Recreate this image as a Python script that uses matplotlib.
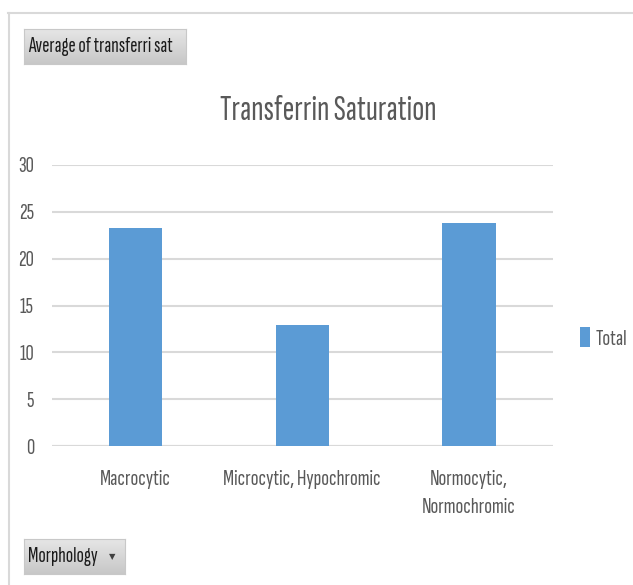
import numpy as np
import matplotlib.pyplot as plt
from matplotlib.lines import Line2D

plt.rcParams['font.family'] = ['Sofia Sans Extra Condensed', 'DejaVu Sans']

# данные
categories = ['Macrocytic', 'Microcytic, Hypochromic', 'Normocytic,\nNormochromic']
values = [23.3, 12.9, 23.8]
yticks = [0, 5, 10, 15, 20, 25, 30]

W, H = 633, 585
fig = plt.figure(figsize=(W / 100, H / 100), dpi=100)

# рамка сводной диаграммы
fig.add_artist(Line2D([8 / W, 1], [1 - 13 / H] * 2, color='#d9d9d9', lw=1.5))
fig.add_artist(Line2D([9 / W] * 2, [1 - 13 / H, 0], color='#d9d9d9', lw=1.5))


def button(x0, y0, x1, y1, text):
    bax = fig.add_axes([x0 / W, 1 - y1 / H, (x1 - x0) / W, (y1 - y0) / H])
    grad = np.linspace(0.90, 0.78, 50).reshape(-1, 1)
    bax.imshow(grad, cmap='gray', vmin=0, vmax=1, aspect='auto', extent=[0, 1, 0, 1], origin='upper')
    bax.set_xlim(0, 1)
    bax.set_ylim(0, 1)
    bax.set_xticks([])
    bax.set_yticks([])
    for s in bax.spines.values():
        s.set_color('#c8c8c8')
    bax.text(4 / (x1 - x0), 0.5, text, ha='left', va='center', fontsize=15.5, color='#1a1a1a',
             transform=bax.transAxes)
    return bax


button(24, 29, 186, 64, 'Average of transferri sat')
mb = button(24, 539, 125, 574, 'Morphology')
mb.text(88 / 101, 0.5, '\u25bc', ha='center', va='center', fontsize=6, color='#404040',
        family='DejaVu Sans', transform=mb.transAxes)

ax = fig.add_axes([52 / W, 1 - 446 / H, 500.5 / W, 281 / H])
x = np.arange(len(categories))
bars = ax.bar(x, values, width=0.32, color='#5b9bd5', label='Total', zorder=3)
ax.set_xlim(-0.5, len(categories) - 0.5)
ax.set_ylim(0, 30)
ax.set_yticks(yticks)
ax.set_xticks(x)
ax.set_xticklabels(categories, fontsize=16.5, color='#595959', linespacing=1.6)
ax.tick_params(axis='y', labelsize=16.5, labelcolor='#595959', length=0, pad=13)
ax.tick_params(axis='x', length=0, pad=17)
ax.grid(axis='y', color='#d9d9d9', lw=1.5, zorder=0)
for s in ax.spines.values():
    s.set_visible(False)
ax.axhline(0, color='#d9d9d9', lw=1.5, zorder=1)

fig.text(328 / W, 1 - 111 / H, 'Transferrin Saturation', ha='center', va='center',
         fontsize=25.5, color='#595959')

ax.legend(loc='center left', bbox_to_anchor=(580 / W, 1 - 338 / H), bbox_transform=fig.transFigure,
          frameon=False, fontsize=16.5, handlelength=0.45, handleheight=1.0, handletextpad=0.25,
          labelcolor='#595959', borderpad=0, borderaxespad=0)

fig.savefig('out.png', dpi=100)
